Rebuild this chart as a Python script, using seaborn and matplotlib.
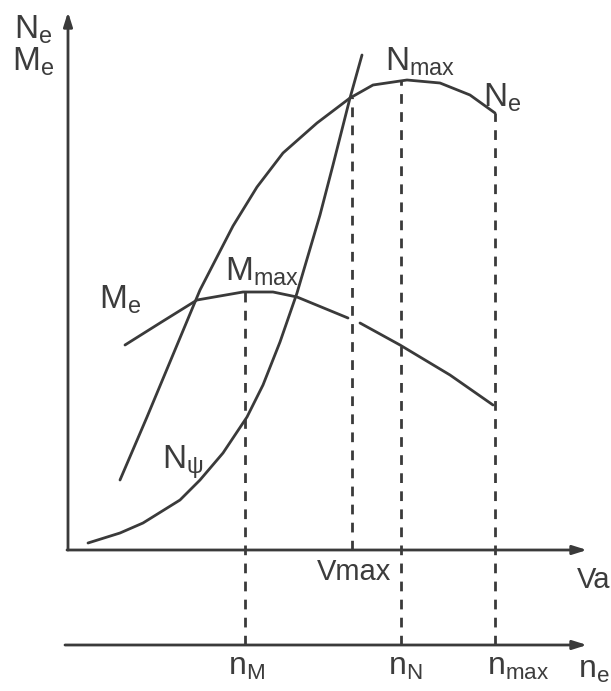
import numpy as np
import pandas as pd
import matplotlib
matplotlib.use("Agg")
import matplotlib.pyplot as plt
import seaborn as sns

# ---- data (diagram units) ----
ne_x = [52, 79, 132, 149, 165, 189, 215, 249, 282, 305, 339, 372, 402, 427]
ne_y = [70, 133, 260, 293, 324, 363, 397, 427, 452, 465, 470, 467, 455, 437]

me_x = [57, 92, 129, 175, 205, 229, 280, 292, 332, 382, 425]
me_y = [205, 227, 250, 258, 258, 253, 232, 227, 205, 175, 145]
me_seg = [0, 0, 0, 0, 0, 0, 0, 1, 1, 1, 1]   # break in the printed curve at Vmax

npsi_x = [20, 52, 75, 112, 132, 155, 179, 195, 212, 229, 252, 265, 282, 294]
npsi_y = [7, 17, 27, 50, 70, 97, 133, 165, 208, 257, 335, 385, 452, 495]

n_M, V_max, n_N, n_max = 177, 284, 333, 427
n_axis_level = -95

sns.set_theme(style="white")
plt.rcParams["font.family"] = ["Liberation Sans", "DejaVu Sans"]
plt.rcParams["mathtext.fontset"] = "custom"
plt.rcParams["mathtext.rm"] = "Liberation Sans"
plt.rcParams["mathtext.it"] = "Liberation Sans"

df = pd.concat([
    pd.DataFrame({"x": ne_x, "y": ne_y, "curve": "Ne"}),
    pd.DataFrame({"x": me_x, "y": me_y,
                  "curve": ["Me%d" % s for s in me_seg]}),
    pd.DataFrame({"x": npsi_x, "y": npsi_y, "curve": "Npsi"}),
])

fig = plt.figure(figsize=(6.11, 6.91), dpi=100)
ax = fig.add_axes([0, 0, 1, 1])
lc = "#3a3a3a"
sns.lineplot(data=df, x="x", y="y", units="curve", estimator=None, sort=False,
             color=lc, lw=2.0, ax=ax, legend=False)
for ln in ax.lines:
    ln.set_solid_joinstyle("round")
    ln.set_solid_capstyle("round")

# dashed guides
dash = dict(color=lc, lw=2.0, ls=(0, (3.5, 3)))
ax.plot([n_M, n_M], [n_axis_level, np.interp(n_M, me_x, me_y)], **dash)
ax.plot([V_max, V_max], [0, np.interp(V_max, ne_x, ne_y)], **dash)
ax.plot([n_N, n_N], [n_axis_level, np.interp(n_N, ne_x, ne_y)], **dash)
ax.plot([n_max, n_max], [n_axis_level, np.interp(n_max, ne_x, ne_y)], **dash)

# axes with arrows
arr = dict(arrowstyle="-|>,head_length=0.7,head_width=0.22", color=lc, lw=2.0,
           shrinkA=0, shrinkB=0)
ax.annotate("", xy=(0, 538), xytext=(0, 0), arrowprops=arr)
ax.annotate("", xy=(519, 0), xytext=(-1, 0), arrowprops=arr)
ax.annotate("", xy=(519, n_axis_level), xytext=(-3, n_axis_level), arrowprops=arr)

tc = "#3c3c3c"
def lab(x, y, s, size=22, ha="center"):
    ax.text(x, y, s, fontsize=size, color=tc, ha=ha, va="center")

lab(-35, 520, r"$\mathrm{N_e}$", 24)
lab(-35, 488, r"$\mathrm{M_e}$", 24)
lab(352, 488, r"$\mathrm{N_{max}}$", 24)
lab(434, 452, r"$\mathrm{N_e}$", 24)
lab(194, 278, r"$\mathrm{M_{max}}$", 24)
lab(52, 250, r"$\mathrm{M_e}$", 24)
lab(115, 88, r"$\mathrm{N_\psi}$", 24)
lab(286, -22, "Vmax", 21)
lab(526, -30, "Va", 21)
lab(178, -117, r"$\mathrm{n_M}$", 23)
lab(337, -117, r"$\mathrm{n_N}$", 23)
lab(450, -117, r"$\mathrm{n_{max}}$", 23)
lab(526, -120, r"$\mathrm{n_e}$", 23)

ax.set_xlim(-68, 543)
ax.set_ylim(-141, 550)
ax.axis("off")
fig.savefig("out.png", dpi=100, facecolor="white")
